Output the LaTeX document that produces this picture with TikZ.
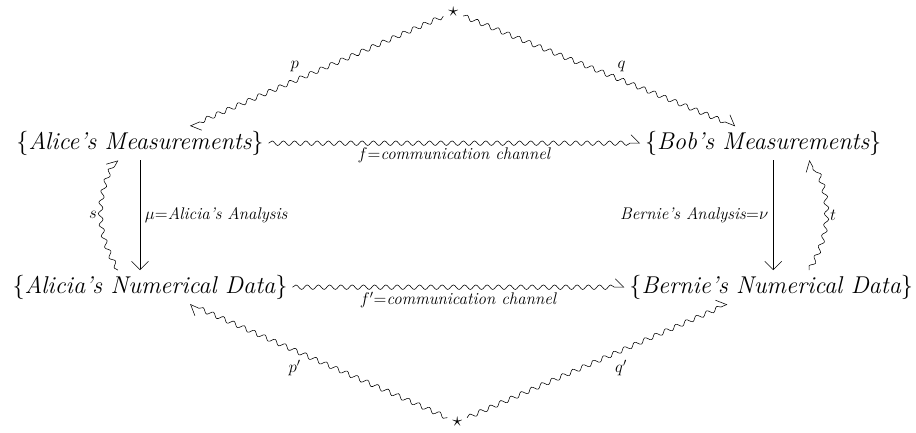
\documentclass[tikz,border=0pt]{standalone}
\usetikzlibrary{decorations.pathmorphing,arrows.meta}
\begin{document}
\begin{tikzpicture}[x=1cm,y=1cm,
	obj/.style={font=\LARGE},
	lbl/.style={font=\large},
	wave/.style={decorate, decoration={snake, amplitude=1.6pt, segment length=8pt, post length=4pt}, -{Straight Barb[left,length=6pt]}},
	plain/.style={-{Straight Barb[length=6pt]}}]
	% Bounding box
	\useasboundingbox (0,0) rectangle (22.9,10.8);
	
	\node[font=\Large] (top) at (11.33,10.5) {$\star$};
	\node[font=\Large] (bot) at (11.43,0.25) {$\star$};
	\node[obj] (alice) at (3.5,7.22) {$\{\textit{Alice's Measurements}\}$};
	\node[obj] (bob) at (19.08,7.22) {$\{\textit{Bob's Measurements}\}$};
	\node[obj] (alicia) at (3.75,3.62) {$\{\textit{Alicia's Numerical Data}\}$};
	\node[obj] (bernie) at (19.28,3.62) {$\{\textit{Bernie's Numerical Data}\}$};
	
	% Squiggly arrows
	\draw[wave] (top) -- ([xshift=1.25cm]alice.north) node[lbl,pos=0.55,above left] {$p$};
	\draw[wave] (top) -- ([xshift=-0.7cm]bob.north) node[lbl,pos=0.55,above right] {$q$};
	\draw[wave] (alice) -- (bob) node[lbl,midway,below] {$f$=\textit{communication channel}};
	\draw[wave] (alicia) -- (bernie) node[lbl,midway,below] {$f'$=\textit{communication channel}};
	\draw[wave] (bot) -- ([xshift=1cm]alicia.south) node[lbl,pos=0.55,below left] {$p'$};
	\draw[wave] (bot) -- ([xshift=-1.1cm]bernie.south) node[lbl,pos=0.55,below right] {$q'$};
	
	% Analyses
	\draw[plain] (alice.south) -- (alice.south |- alicia.north) node[lbl,midway,right] {$\mu$=\textit{Alicia's Analysis}};
	\draw[plain] ([xshift=0.25cm]bob.south) -- ([xshift=0.25cm]bob.south |- bernie.north) node[lbl,midway,left] {\textit{Bernie's Analysis}=$\nu$};
	\draw[wave] ([xshift=-0.8cm]alicia.north) to[bend left=30] node[lbl,left] {$s$} ([xshift=-0.8cm]alicia.north |- alice.south);
	\draw[wave] ([xshift=0.95cm]bernie.north) to[bend right=30] node[lbl,right] {$t$} ([xshift=0.95cm]bernie.north |- bob.south);
\end{tikzpicture}
\end{document}
